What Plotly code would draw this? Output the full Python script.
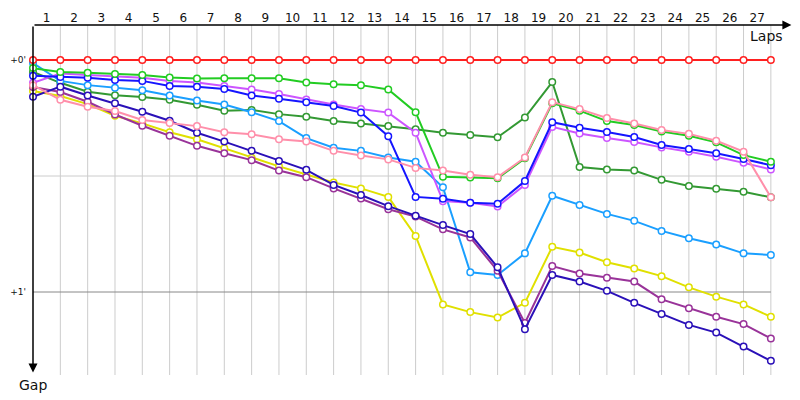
import plotly.graph_objects as go

laps = list(range(0, 28))
lap_labels = [str(i) for i in range(1, 28)]

# gap to leader in seconds, per lap (lap 0 = start)
red = [0.0] * 28
lime = [2.1, 3.1, 3.3, 3.6, 3.9, 4.5, 4.8, 4.7, 4.7, 4.7, 5.8, 6.3, 6.5, 7.6, 13.5, 30.2, 30.4, 30.6, 25.4, 11.2, 13.1, 15.8, 16.8, 18.5, 19.6, 21.3, 24.6, 26.3]
dkgreen = [3.1, 5.9, 8.2, 9.1, 9.6, 10.3, 11.6, 13.1, 12.9, 14.0, 14.7, 15.8, 16.4, 17.1, 17.9, 18.8, 19.4, 20.0, 14.9, 5.7, 27.7, 28.3, 28.6, 31.0, 32.6, 33.3, 34.1, 35.5]
magenta = [5.9, 3.5, 3.9, 4.3, 4.6, 5.4, 5.8, 6.7, 7.6, 8.8, 10.2, 11.5, 12.7, 13.6, 18.8, 36.5, 36.9, 37.9, 32.3, 17.3, 19.0, 20.2, 21.2, 22.6, 23.7, 25.0, 26.6, 28.3]
blue = [4.1, 4.4, 4.6, 5.2, 5.4, 6.7, 6.9, 7.5, 9.2, 10.0, 10.9, 11.9, 13.6, 19.7, 35.4, 35.9, 36.9, 37.2, 31.3, 16.1, 17.5, 18.6, 19.9, 22.0, 23.0, 24.1, 25.6, 27.2]
skyblue = [0.8, 5.4, 6.5, 7.2, 7.8, 9.2, 10.5, 11.5, 13.5, 15.8, 20.2, 22.7, 23.5, 25.2, 26.3, 32.9, 54.9, 55.6, 50.0, 35.1, 37.5, 39.8, 41.6, 44.2, 46.1, 47.7, 50.0, 50.4]
pink = [6.5, 10.3, 12.1, 13.2, 15.5, 16.3, 17.1, 18.7, 19.2, 20.5, 21.1, 23.5, 24.7, 25.7, 27.9, 28.6, 29.7, 30.3, 25.2, 10.9, 12.7, 15.0, 16.4, 18.1, 19.1, 20.9, 23.7, 35.5]
yellow = [8.0, 9.3, 11.4, 14.4, 16.4, 18.7, 20.5, 22.8, 25.3, 27.5, 29.6, 31.7, 33.2, 35.4, 45.5, 63.2, 65.2, 66.6, 62.8, 48.3, 49.8, 52.3, 53.9, 55.9, 58.8, 61.2, 63.2, 66.4]
purple = [7.0, 8.3, 10.8, 14.1, 17.0, 19.6, 22.2, 24.1, 25.9, 28.6, 30.3, 33.2, 35.8, 38.6, 40.5, 43.8, 45.9, 54.5, 68.0, 53.3, 55.2, 56.3, 57.3, 61.9, 64.2, 66.4, 68.3, 72.0]
navy = [9.5, 6.9, 9.2, 11.2, 13.4, 15.7, 18.8, 21.1, 23.5, 26.1, 28.4, 32.3, 34.9, 37.8, 40.3, 42.7, 45.0, 53.6, 69.6, 55.6, 57.3, 59.7, 62.8, 65.7, 68.5, 70.5, 74.1, 77.8]

y_tick_vals = [0, 60]
y_tick_text = ["+0'", "+1'"]

series = [
    (dkgreen, "#339933"),
    (skyblue, "#1a9fff"),
    (yellow, "#e0e000"),
    (purple, "#993399"),
    (navy, "#2a10b8"),
    (magenta, "#cc55ff"),
    (blue, "#1515ff"),
    (lime, "#22cc22"),
    (pink, "#ff8faa"),
    (red, "#ff2020"),
]

fig = go.Figure()

X_MAX = 27.7
Y_TOP = -9.05
Y_BOT = 81.46

# grid
shapes = []
for k in range(1, 28):
    shapes.append(dict(type="line", xref="x", yref="paper", x0=k, x1=k, y0=0, y1=1,
                       line=dict(color="#cccccc", width=1), layer="below"))
shapes.append(dict(type="line", xref="x", yref="y", x0=0, x1=27, y0=30, y1=30,
                   line=dict(color="#cccccc", width=1), layer="below"))
shapes.append(dict(type="line", xref="x", yref="y", x0=0, x1=27, y0=60, y1=60,
                   line=dict(color="#888888", width=1), layer="below"))
shapes.append(dict(type="line", xref="x", yref="y", x0=0, x1=27, y0=0, y1=0,
                   line=dict(color="#888888", width=1), layer="below"))

for vals, col in series:
    fig.add_trace(go.Scatter(
        x=laps, y=vals, mode="lines+markers",
        line=dict(color=col, width=2),
        marker=dict(symbol="circle", size=6.5, color="white", line=dict(color=col, width=1.5)),
        showlegend=False, hoverinfo="skip", cliponaxis=False,
    ))

annotations = [
    # top axis arrow
    dict(xref="x", yref="y", axref="x", ayref="y", x=X_MAX + 0.05, y=Y_TOP, ax=0, ay=Y_TOP,
         showarrow=True, arrowhead=2, arrowsize=1.2, arrowwidth=1.5, arrowcolor="black", text=""),
    # left axis arrow
    dict(xref="x", yref="y", axref="x", ayref="y", x=0, y=80.8, ax=0, ay=Y_TOP,
         showarrow=True, arrowhead=2, arrowsize=1.2, arrowwidth=1.5, arrowcolor="black", text=""),
    dict(xref="x", yref="y", x=26.85, y=-6.3, text="Laps", showarrow=False,
         font=dict(size=14, color="#111111", family="DejaVu Sans"), xanchor="center", yanchor="middle"),
    dict(xref="paper", yref="paper", x=0, y=0, yshift=-10, text="Gap", showarrow=False,
         font=dict(size=14, color="#111111", family="DejaVu Sans"), xanchor="center", yanchor="middle"),
]

fig.update_layout(
    width=800, height=400,
    margin=dict(l=31, r=10, t=25, b=25),
    paper_bgcolor="white", plot_bgcolor="white",
    shapes=shapes, annotations=annotations,
    xaxis=dict(range=[0, X_MAX], side="top", tickvals=[i + 0.5 for i in range(27)], ticktext=lap_labels,
               showgrid=False, zeroline=False, showline=False, ticks="",
               tickfont=dict(size=12, color="#111111", family="DejaVu Sans"), fixedrange=True),
    yaxis=dict(range=[Y_BOT, Y_TOP], tickvals=y_tick_vals, ticktext=y_tick_text,
               showgrid=False, zeroline=False, showline=False, ticks="", ticklabelstandoff=6,
               tickfont=dict(size=9, color="#111111", family="DejaVu Sans"), fixedrange=True),
)

fig.write_html("out.html")
